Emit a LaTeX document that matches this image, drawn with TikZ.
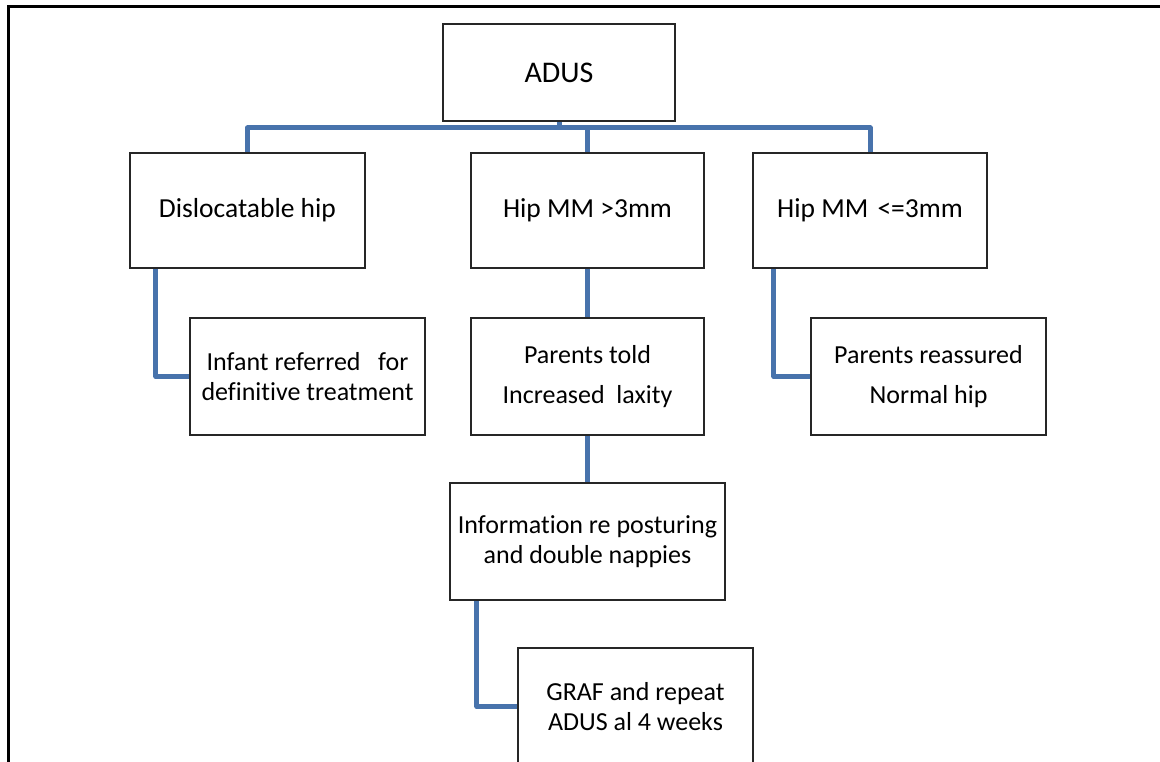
\documentclass[tikz,border=0pt]{standalone}
\usepackage{fontspec}
\setmainfont{Carlito}[Ligatures=NoCommon]
\usetikzlibrary{calc}
\definecolor{linkblue}{RGB}{72,115,172}
\tikzset{
  box/.style={draw=black!85, line width=2.2pt, fill=white, align=center,
    inner sep=0pt, minimum width=235pt, minimum height=117pt,
    font=\fontsize{26}{30}\selectfont},
  toprow/.style={box, minimum height=115pt, font=\fontsize{27.5}{32}\selectfont},
  link/.style={draw=linkblue, line width=5pt, line join=round},
}

\begin{document}
\begin{tikzpicture}[x=1pt,y=-1pt]
    \clip (0,0) rectangle (1160,762);
    \fill[white] (0,0) rectangle (1160,762);
    \draw[line width=3pt] (8,780) -- (8,7) -- (1180,7);

    \node[box, minimum width=232pt, minimum height=97pt,
      font=\fontsize{30}{36}\selectfont] (adus) at (559,72.5) {ADUS};

    \node[toprow] (disl) at (247.5,210.5) {Dislocatable hip};
    \node[toprow, minimum width=233pt] (hipG) at (587.5,210.5) {Hip MM >3mm};
    \node[toprow, minimum width=234pt] (hipS) at (870,210.5) {Hip MM\hspace{3pt} <=3mm};

    \node[box] (infant) at (307.5,376.5) {Infant referred\ \ \ for\\definitive treatment};
    \node[box, minimum width=233pt] (told) at (587.5,376.5) {Parents told\\[10pt]Increased\ \ laxity};
    \node[box] (reass) at (928.5,376.5) {Parents reassured\\[10pt]Normal hip};

    \node[box, minimum width=275pt] (info) at (587.5,541.5) {Information re posturing\\and double nappies};
    \node[box] (graf) at (635.5,706.5) {GRAF and repeat\\ADUS al 4 weeks};

    % bus under ADUS
    \coordinate (bus) at (0,128);
    \draw[link] (disl.north) -- (disl.north |- bus) -- (hipS.north |- bus) -- (hipS.north);
    \foreach \n in {adus.south, hipG.north}
      \draw[link] (\n) -- (\n |- bus);

    \draw[link] (hipG.south) -- (told.north);
    \draw[link] (told.south) -- (info.north);
    \draw[link] ($(disl.south west)+(27,0)$) |- (infant.west);
    \draw[link] ($(hipS.south west)+(22,0)$) |- (reass.west);
    \draw[link] ($(info.south west)+(28,0)$) |- (graf.west);
  \end{tikzpicture}
\end{document}
